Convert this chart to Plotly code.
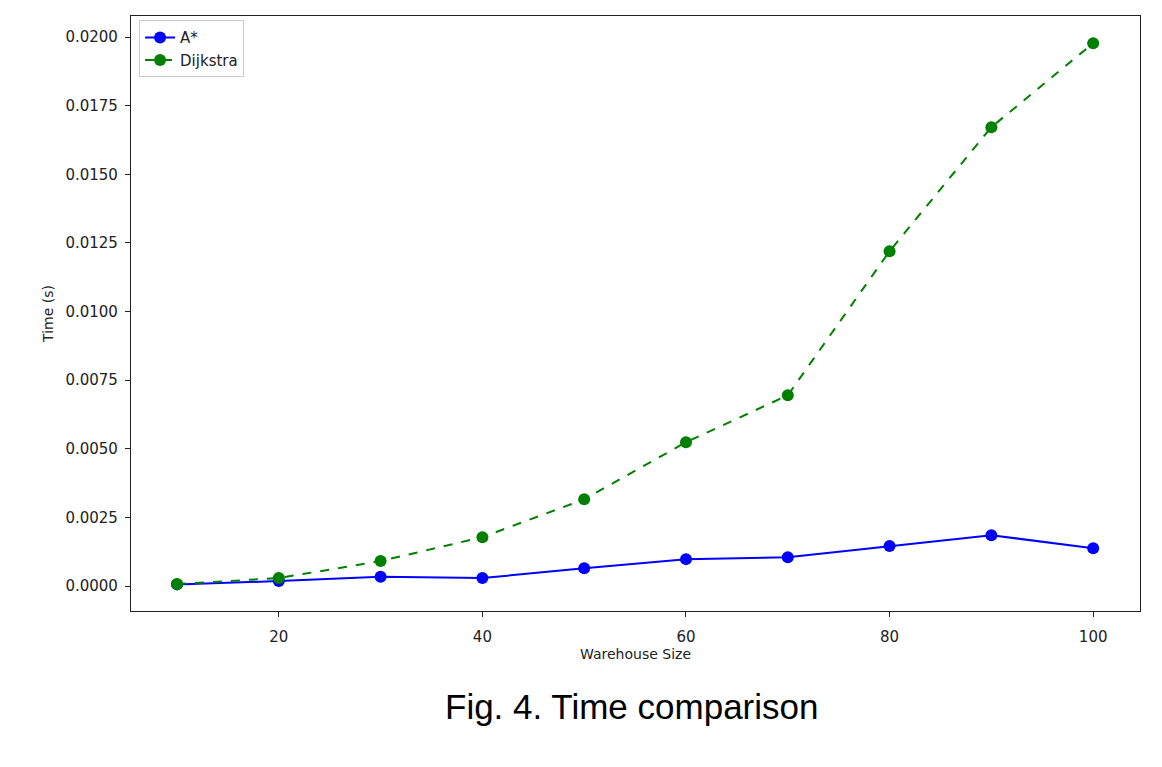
import plotly.graph_objects as go

sizes = [10, 20, 30, 40, 50, 60, 70, 80, 90, 100]
astar_time = [0.00006, 0.00018, 0.00034, 0.00029, 0.00065, 0.00098, 0.00105, 0.00146, 0.00185, 0.00138]
dijkstra_time = [0.00007, 0.00029, 0.00091, 0.00178, 0.00316, 0.00524, 0.00695, 0.01220, 0.01672, 0.01978]
y_ticks = [0.0, 0.0025, 0.005, 0.0075, 0.01, 0.0125, 0.015, 0.0175, 0.02]
x_ticks = [20, 40, 60, 80, 100]

fig = go.Figure()
fig.add_trace(go.Scatter(x=sizes, y=astar_time, mode="lines+markers", name="A*",
                         line=dict(color="#0000ff", width=2),
                         marker=dict(color="#0000ff", size=12)))
fig.add_trace(go.Scatter(x=sizes, y=dijkstra_time, mode="lines+markers", name="Dijkstra",
                         line=dict(color="#008000", width=2, dash="dash"),
                         marker=dict(color="#008000", size=12)))

axis_common = dict(showgrid=False, zeroline=False, showline=True, linecolor="#222",
                   linewidth=1.2, mirror=True, ticks="outside", ticklen=5, tickcolor="#222",
                   tickfont=dict(family="DejaVu Sans", size=15, color="#222"))

fig.update_layout(
    width=1162, height=767,
    margin=dict(l=123, r=30, t=8, b=164),
    paper_bgcolor="white", plot_bgcolor="white",
    xaxis=dict(range=[5.48, 104.6], tickvals=x_ticks, ticklabelstandoff=7,
               title=dict(text="Warehouse Size", font=dict(family="DejaVu Sans", size=14, color="#222"), standoff=0),
               **axis_common),
    yaxis=dict(range=[-0.00091, 0.02077], tickvals=y_ticks, ticktext=[f"{v:.4f}" for v in y_ticks],
               ticklabelstandoff=4,
               title=dict(text="Time (s)", font=dict(family="DejaVu Sans", size=14, color="#222"), standoff=8),
               **axis_common),
    legend=dict(x=0.008, y=0.993, xanchor="left", yanchor="top",
                bgcolor="rgba(255,255,255,0.8)", bordercolor="#cccccc", borderwidth=1,
                font=dict(family="DejaVu Sans", size=15, color="#222"),
                tracegroupgap=0),
    showlegend=True,
    annotations=[dict(text="Fig. 4. Time comparison", xref="paper", yref="paper",
                      x=0.4965, y=-0.1597, xanchor="center", yanchor="middle", showarrow=False,
                      font=dict(family="Liberation Sans", size=35, color="#000"))]
)

fig.write_html("out.html")
